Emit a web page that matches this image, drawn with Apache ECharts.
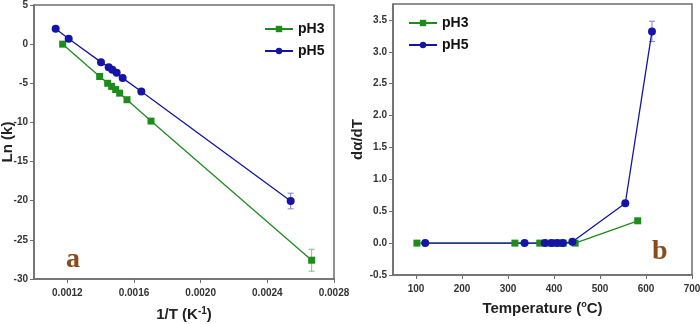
<!DOCTYPE html>
<html>
<head>
<meta charset="utf-8">
<script src="https://cdn.jsdelivr.net/npm/echarts@6/dist/echarts.min.js"></script>
<style>
  html, body { margin: 0; padding: 0; background: #fff; }
  #main { width: 700px; height: 324px; }
</style>
</head>
<body>
<div id="main"></div>
<script>
// panel a : Ln(k) vs 1/T
var invT_pH3 = [0.001172, 0.001394, 0.001442, 0.001466, 0.00149, 0.001514, 0.001558, 0.001702, 0.002666];
var lnk_pH3  = [0.0, -4.13, -5.0, -5.4, -5.8, -6.26, -7.1, -9.83, -27.6];
var err_a_pH3 = [0, 0, 0, 0, 0, 0, 0, 0.3, 1.4];
var invT_pH5 = [0.00113, 0.001208, 0.001402, 0.001448, 0.00147, 0.001496, 0.001532, 0.001644, 0.00254];
var lnk_pH5  = [1.96, 0.68, -2.3, -2.94, -3.28, -3.66, -4.34, -6.04, -20.04];
var err_a_pH5 = [0, 0, 0, 0, 0, 0, 0, 0, 1.0];

// panel b : da/dT vs temperature
var temp_pH3 = [102, 315, 369, 387, 398, 409, 420, 446, 582];
var rate_pH3 = [0, 0, 0, 0, 0, 0, 0, 0, 0.35];
var temp_pH5 = [120, 336, 380, 395, 407, 419, 440, 555, 613];
var rate_pH5 = [0, 0, 0, 0, 0, 0, 0.02, 0.625, 3.32];
var err_b_pH5 = [0, 0, 0, 0, 0, 0, 0, 0, 0.16];

var xTicksA = [0.0012, 0.0016, 0.0020, 0.0024, 0.0028];
var xTicksB = [100, 200, 300, 400, 500, 600, 700];

var green = '#1d8c1d';
var blue = '#1414a6';
var axisColor = '#6e6e6e';
var font = '"Liberation Sans", Arial, sans-serif';

function zip(xs, ys) {
  return xs.map(function (x, i) { return [x, ys[i]]; });
}
function zipErr(xs, ys, es) {
  var out = [];
  for (var i = 0; i < xs.length; i++) {
    if (es[i] > 0) out.push([xs[i], ys[i], es[i]]);
  }
  return out;
}

function errorBars(idx, data, color) {
  return {
    type: 'custom',
    xAxisIndex: idx,
    yAxisIndex: idx,
    silent: true,
    z: 1,
    data: data,
    renderItem: function (params, api) {
      var x = api.value(0), y = api.value(1), e = api.value(2);
      var hi = api.coord([x, y + e]);
      var lo = api.coord([x, y - e]);
      var w = 3;
      var st = { stroke: color, lineWidth: 1 };
      return {
        type: 'group',
        children: [
          { type: 'line', shape: { x1: hi[0], y1: hi[1], x2: lo[0], y2: lo[1] }, style: st },
          { type: 'line', shape: { x1: hi[0] - w, y1: hi[1], x2: hi[0] + w, y2: hi[1] }, style: st },
          { type: 'line', shape: { x1: lo[0] - w, y1: lo[1], x2: lo[0] + w, y2: lo[1] }, style: st }
        ]
      };
    }
  };
}

var tickLabel = { color: '#333', fontSize: 10, fontWeight: 'bold', fontFamily: font };
var axisLine = { show: true, onZero: false, lineStyle: { color: axisColor, width: 1.5 } };
var axisTick = { show: true, inside: false, length: 4, lineStyle: { color: axisColor } };

function lineSeries(name, idx, data, color, symbol, size) {
  return {
    name: name,
    type: 'line',
    xAxisIndex: idx,
    yAxisIndex: idx,
    data: data,
    symbol: symbol,
    symbolSize: size,
    showAllSymbol: true,
    itemStyle: { color: color },
    lineStyle: { color: color, width: 1.3 },
    z: 3
  };
}

var legendText = { fontSize: 14, fontWeight: 'bold', fontFamily: font, color: '#111' };

var option = {
  animation: false,
  backgroundColor: '#fff',
  grid: [
    { left: 34, top: 5, width: 300, height: 274, outerBoundsMode: 'none', containLabel: false,
      show: true, borderColor: axisColor, borderWidth: 1.5 },
    { left: 393, top: 4, width: 299, height: 271, outerBoundsMode: 'none', containLabel: false,
      show: true, borderColor: axisColor, borderWidth: 1.5 }
  ],
  legend: [
    {
      orient: 'vertical', left: 259, top: 17, itemGap: 8, itemWidth: 28, itemHeight: 8,
      textStyle: legendText, data: ['pH3', 'pH5']
    },
    {
      orient: 'vertical', left: 403, top: 11, itemGap: 8, itemWidth: 28, itemHeight: 8,
      textStyle: legendText, data: ['pH3', 'pH5']
    }
  ],
  xAxis: [
    {
      type: 'value', gridIndex: 0, min: 0.001, max: 0.0028,
      splitLine: { show: false }, axisLine: axisLine,
      axisTick: Object.assign({ customValues: xTicksA }, axisTick),
      axisLabel: Object.assign({ customValues: xTicksA, margin: 9,
        formatter: function (v) { return v.toFixed(4); } }, tickLabel),
      name: '1/T (K{sup|-1})', nameLocation: 'middle', nameGap: 27,
      nameTextStyle: { fontSize: 15, fontWeight: 'bold', fontFamily: font, color: '#222',
        rich: { sup: { fontSize: 10, fontWeight: 'bold', fontFamily: font, color: '#222', verticalAlign: 'top', padding: [0, 0, 8, 0] } } }
    },
    {
      type: 'value', gridIndex: 1, min: 50, max: 700,
      splitLine: { show: false }, axisLine: axisLine,
      axisTick: Object.assign({ customValues: xTicksB }, axisTick),
      axisLabel: Object.assign({ customValues: xTicksB, margin: 9 }, tickLabel),
      name: 'Temperature ({sup|o}C)', nameLocation: 'middle', nameGap: 25,
      nameTextStyle: { fontSize: 15, fontWeight: 'bold', fontFamily: font, color: '#222',
        rich: { sup: { fontSize: 9, fontWeight: 'bold', fontFamily: font, color: '#222', verticalAlign: 'top', padding: [0, 0, 8, 0] } } }
    }
  ],
  yAxis: [
    {
      type: 'value', gridIndex: 0, min: -30, max: 5, interval: 5,
      splitLine: { show: false }, axisLine: axisLine, axisTick: axisTick,
      axisLabel: Object.assign({ margin: 6 }, tickLabel),
      name: 'Ln (k)', nameLocation: 'middle', nameGap: 19, nameRotate: 90, nameMoveOverlap: false,
      nameTextStyle: { fontSize: 15, fontWeight: 'bold', fontFamily: font, color: '#222' }
    },
    {
      type: 'value', gridIndex: 1, min: -0.5, max: 3.75, interval: 0.5,
      splitLine: { show: false }, axisLine: axisLine, axisTick: axisTick,
      axisLabel: Object.assign({ margin: 6, showMaxLabel: false,
        formatter: function (v) { return v.toFixed(1); } }, tickLabel),
      name: 'd\u03b1/dT', nameLocation: 'middle', nameGap: 28, nameRotate: 90, nameMoveOverlap: false,
      nameTextStyle: { fontSize: 15, fontWeight: 'bold', fontFamily: font, color: '#222' }
    }
  ],
  graphic: [
    { type: 'text', left: 66, top: 246, style: { text: 'a', fontSize: 28, fontWeight: 'bold', fontFamily: '"Liberation Serif", "DejaVu Serif", serif', fill: '#8a4a1c' } },
    { type: 'text', left: 652, top: 238, style: { text: 'b', fontSize: 28, fontWeight: 'bold', fontFamily: '"Liberation Serif", "DejaVu Serif", serif', fill: '#8a4a1c' } }
  ],
  series: [
    errorBars(0, zipErr(invT_pH3, lnk_pH3, err_a_pH3), '#7fbf7f'),
    errorBars(0, zipErr(invT_pH5, lnk_pH5, err_a_pH5), '#8080d0'),
    errorBars(1, zipErr(temp_pH5, rate_pH5, err_b_pH5), '#8080d0'),
    lineSeries('pH3', 0, zip(invT_pH3, lnk_pH3), green, 'rect', 7),
    lineSeries('pH5', 0, zip(invT_pH5, lnk_pH5), blue, 'circle', 8),
    lineSeries('pH3', 1, zip(temp_pH3, rate_pH3), green, 'rect', 7),
    lineSeries('pH5', 1, zip(temp_pH5, rate_pH5), blue, 'circle', 8)
  ]
};

var myChart = echarts.init(document.getElementById('main'));
myChart.setOption(option);
</script>
</body>
</html>
